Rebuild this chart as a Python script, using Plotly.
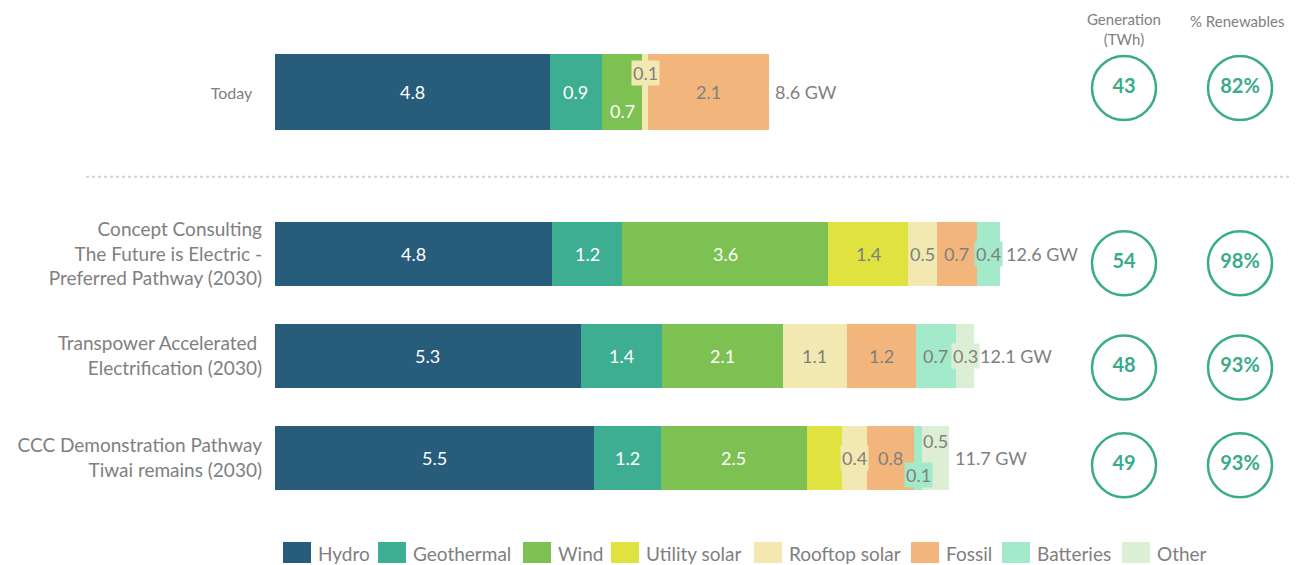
import plotly.graph_objects as go

# ---------------- data ----------------
scenarios = [
    "Today",
    "Concept Consulting<br>The Future is Electric -<br>Preferred Pathway (2030)",
    "Transpower Accelerated&nbsp;<br>Electrification (2030)",
    "CCC Demonstration Pathway<br>Tiwai remains (2030)",
]
techs = ["Hydro", "Geothermal", "Wind", "Utility solar", "Rooftop solar", "Fossil", "Batteries", "Other"]
hydro = [4.78, 4.82, 5.32, 5.54]
geothermal = [0.90, 1.22, 1.41, 1.17]
wind = [0.71, 3.58, 2.10, 2.54]
utility_solar = [0.0, 1.39, 0.0, 0.61]
rooftop_solar = [0.10, 0.50, 1.11, 0.43]
fossil = [2.10, 0.70, 1.20, 0.83]
batteries = [0.0, 0.40, 0.71, 0.14]
other = [0.0, 0.0, 0.30, 0.47]
totals_gw = [8.6, 12.6, 12.1, 11.7]
generation_twh = [43, 54, 48, 49]
pct_renewables = [82, 98, 93, 93]

series = [hydro, geothermal, wind, utility_solar, rooftop_solar, fossil, batteries, other]
colors = ["#285c7b", "#3eae93", "#7cc151", "#dfe23f", "#f1e9b1", "#f2b57c", "#a2eac9", "#dcefd4"]
dark = [True, True, True, False, False, False, False, False]
show_label = [[True] * 4 for _ in techs]
show_label[3][3] = False  # CCC utility solar unlabelled

# ---------------- layout helpers ----------------
OFF = 8  # page body margin
rows = [0.0, 1.588, 2.588, 3.588]
bar_widths = [0.745, 0.627, 0.627, 0.627]
circle_rows = [-0.04, 1.68, 2.70, 3.66]
GRAY = "#808080"
TEAL = "#3aab8b"
FONT = "Lato"
PLOT_L = 275 - OFF
PLOT_W = 1298 - PLOT_L
PLOT_H = 520
PX_PER_GW = 57.5
ROW_PX = 102
TODAY_PX = 92 - OFF

def px(screen_x):
    return (screen_x - OFF - PLOT_L) / PLOT_W

def py(screen_y):
    return 1 - (screen_y - OFF) / PLOT_H

# special label placement: (scenario, tech) -> (yshift, use_bg)
special = {
    (0, 4): (19, True),
    (0, 2): (-19, False),
    (1, 6): (0, True),
    (2, 7): (0, True),
    (3, 4): (0, True),
    (3, 6): (-17, True),
    (3, 7): (17, False),
}

fig = go.Figure()
annotations = []

cum = [0.0] * len(scenarios)
for ti, (name, vals, col) in enumerate(zip(techs, series, colors)):
    fig.add_trace(go.Bar(
        name=name, x=vals, y=rows, orientation="h", width=bar_widths,
        marker=dict(color=col, line=dict(width=0)), showlegend=False,
        hoverinfo="x+name",
    ))
    for si, v in enumerate(vals):
        if v > 0 and show_label[ti][si]:
            ys, bg = special.get((si, ti), (0, False))
            annotations.append(dict(
                x=cum[si] + v / 2, y=rows[si], xref="x", yref="y",
                text=f"{v:.1f}", showarrow=False, yshift=ys,
                font=dict(family=FONT, size=18, color="white" if dark[ti] else GRAY),
                bgcolor=col if bg else None, borderpad=1,
            ))
        cum[si] += v

for si, t in enumerate(totals_gw):
    annotations.append(dict(
        x=cum[si], y=rows[si], xref="x", yref="y", text=f"{t} GW",
        showarrow=False, xanchor="left", xshift=4,
        font=dict(family=FONT, size=18, color=GRAY),
    ))

# circles
for col_i, (vals, fmt) in enumerate([(generation_twh, "{}"), (pct_renewables, "{}%")]):
    fig.add_trace(go.Scatter(
        x=[col_i] * len(vals), y=circle_rows, xaxis="x2", yaxis="y",
        mode="markers+text", text=[fmt.format(v) for v in vals],
        textposition="middle center",
        textfont=dict(family=FONT, size=20, color=TEAL, weight="bold"),
        marker=dict(symbol="circle-open", size=64, color=TEAL, line=dict(width=2.5, color=TEAL)),
        showlegend=False, hoverinfo="skip",
    ))

# column headers
annotations.append(dict(x=0, y=py(29), xref="x2", yref="paper", text="Generation<br>(TWh)",
                        showarrow=False, yanchor="middle",
                        font=dict(family=FONT, size=15, color=GRAY)))
annotations.append(dict(x=1, y=py(21), xref="x2", yref="paper", text="% Renewables",
                        showarrow=False, yanchor="middle", xshift=-3,
                        font=dict(family=FONT, size=15, color=GRAY)))

# manual legend
legend_left = [283, 378, 523, 611, 754, 911, 1002, 1122]
shapes = []
for name, col, lx in zip(techs, colors, legend_left):
    shapes.append(dict(type="rect", xref="paper", yref="paper",
                       x0=px(lx), x1=px(lx + 28), y0=py(563), y1=py(542),
                       fillcolor=col, line=dict(width=0)))
    annotations.append(dict(x=px(lx + 33), y=py(553), xref="paper", yref="paper",
                            text=name, showarrow=False, xanchor="left", yanchor="middle",
                            font=dict(family=FONT, size=19, color=GRAY)))

# dotted separator
shapes.append(dict(type="line", xref="paper", yref="y", x0=px(86), x1=px(1291),
                   y0=0.83, y1=0.83, line=dict(color="#d3d3d3", width=2, dash="dot")))

fig.update_layout(
    width=1298, height=565,
    margin=dict(l=PLOT_L, r=0, t=0, b=565 - PLOT_H, autoexpand=False),
    barmode="stack",
    plot_bgcolor="white", paper_bgcolor="white",
    font=dict(family=FONT, size=18, color=GRAY),
    xaxis=dict(range=[0, PLOT_W / PX_PER_GW], visible=False, fixedrange=True),
    xaxis2=dict(overlaying="x", range=[-(1124 - OFF - PLOT_L) / 116,
                                       -(1124 - OFF - PLOT_L) / 116 + PLOT_W / 116],
                visible=False),
    yaxis=dict(range=[(PLOT_H - TODAY_PX) / ROW_PX, -TODAY_PX / ROW_PX], tickvals=rows,
               ticktext=['<span style="font-size:16px">Today</span>&nbsp;&nbsp;'] + scenarios[1:],
               showgrid=False, zeroline=False, showline=False, ticks="", automargin=False,
               ticklabelstandoff=12, tickfont=dict(family=FONT, size=19, color=GRAY)),
    annotations=annotations, shapes=shapes,
)

fig.write_html("out.html")
